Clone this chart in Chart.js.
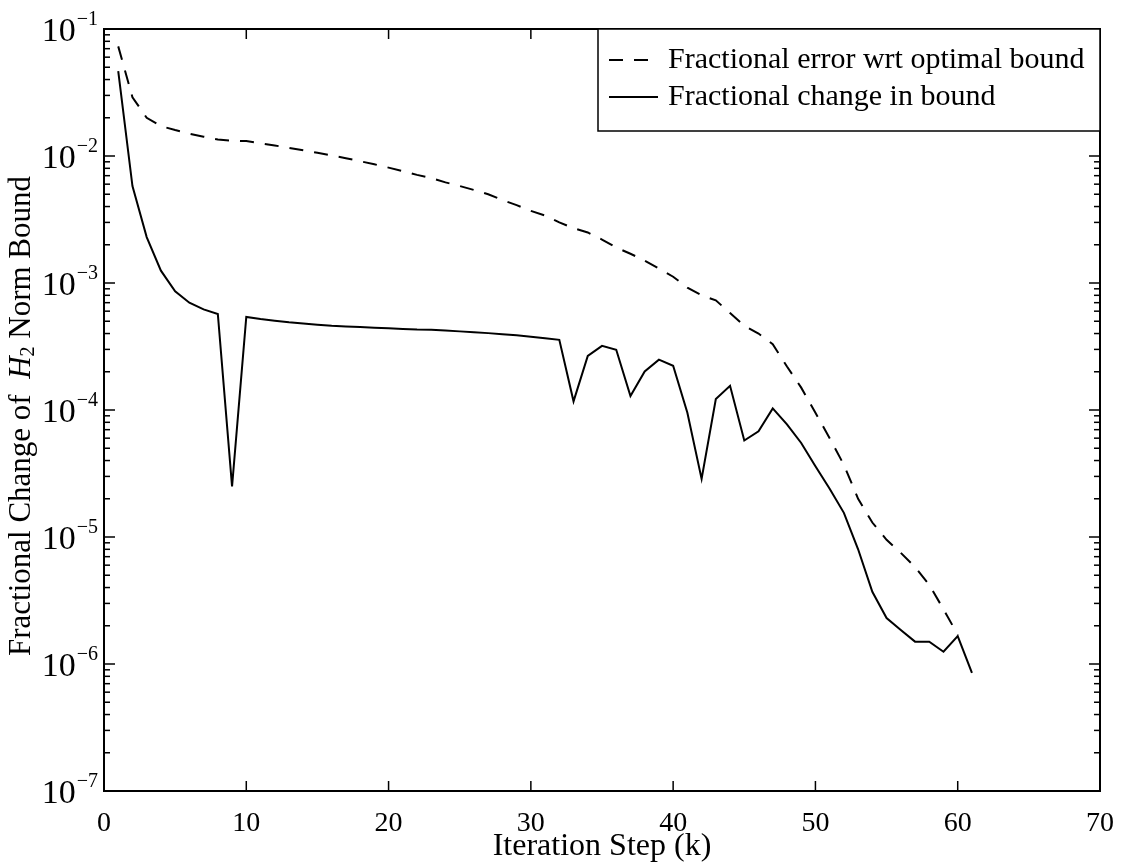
<!DOCTYPE html>
<html>
<head>
<meta charset="utf-8">
<script src="https://cdn.jsdelivr.net/npm/chart.js@4.4.0/dist/chart.umd.min.js"></script>
<style>
  html, body { margin: 0; padding: 0; background: #fff; }
</style>
</head>
<body>
<canvas id="graficoNorma" width="1122" height="867"></canvas>
<script>
// passos de iteracao (k)
const passos = [1, 2, 3, 4, 5, 6, 7, 8, 9, 10, 11, 12, 13, 14, 15, 16, 17, 18, 19, 20,
  21, 22, 23, 24, 25, 26, 27, 28, 29, 30, 31, 32, 33, 34, 35, 36, 37, 38, 39, 40,
  41, 42, 43, 44, 45, 46, 47, 48, 49, 50, 51, 52, 53, 54, 55, 56, 57, 58, 59, 60, 61];

// erro fracional em relacao ao limite otimo (tracejado), k = 1..60
const erroOtimo = [0.073, 0.029, 0.020, 0.0172, 0.0160, 0.0150, 0.0142, 0.0135, 0.0132, 0.0131,
  0.0126, 0.0121, 0.0116, 0.0111, 0.0106, 0.0101, 0.0096, 0.0091, 0.0086, 0.0081,
  0.0076, 0.0071, 0.0067, 0.0062, 0.0058, 0.0054, 0.0050, 0.0045, 0.0041, 0.0037,
  0.0034, 0.0030, 0.0027, 0.0025, 0.0022, 0.0019, 0.0017, 0.0015, 0.0013, 0.00112,
  0.00092, 0.00080, 0.00073, 0.00058, 0.00046, 0.00040, 0.00033, 0.00022, 0.00015, 0.000095,
  0.000060, 0.000037, 0.000020, 0.000013, 0.0000095, 0.0000075, 0.0000058, 0.0000042, 0.0000027, 0.0000017];

// variacao fracional do limite (continuo), k = 1..61
const variacaoLimite = [0.0465, 0.0058, 0.0023, 0.00125, 0.00086, 0.00070, 0.00062, 0.00057, 0.000025, 0.00054,
  0.00052, 0.000505, 0.00049, 0.00048, 0.00047, 0.00046, 0.000455, 0.00045, 0.000445, 0.00044,
  0.000435, 0.00043, 0.000428, 0.000422, 0.000416, 0.00041, 0.000403, 0.000395, 0.000387, 0.000378,
  0.000367, 0.000357, 0.000117, 0.000267, 0.00032, 0.000298, 0.000129, 0.000201, 0.000249, 0.000223,
  0.000095, 0.0000287, 0.000122, 0.000155, 0.0000575, 0.000068, 0.000103, 0.000077, 0.000055, 0.000036,
  0.000024, 0.0000155, 0.000008, 0.0000037, 0.0000023, 0.00000185, 0.0000015, 0.0000015, 0.00000125, 0.00000166,
  0.00000085];

const rotulos = ['Fractional error wrt optimal bound', 'Fractional change in bound'];
const potenciasY = [-1, -2, -3, -4, -5, -6, -7];
const ticksX = [0, 10, 20, 30, 40, 50, 60, 70];

const serif = '"Liberation Serif", "Times New Roman", serif';

function pares(valores) {
  return valores.map((v, i) => ({ x: passos[i], y: v }));
}

function linha(ctx, x1, y1, x2, y2) {
  ctx.beginPath();
  ctx.moveTo(x1, y1);
  ctx.lineTo(x2, y2);
  ctx.stroke();
}

const molduraPlugin = {
  id: 'moldura',
  afterDraw(chart) {
    const ctx = chart.ctx;
    const { left, right, top, bottom } = chart.chartArea;
    const sx = chart.scales.x;
    const sy = chart.scales.y;
    ctx.save();
    ctx.strokeStyle = '#000';
    ctx.fillStyle = '#000';
    ctx.lineWidth = 2;
    ctx.strokeRect(left, top, right - left, bottom - top);

    // marcas do eixo x (para dentro, em baixo e em cima)
    ctx.lineWidth = 1.5;
    sx.ticks.forEach(t => {
      const px = sx.getPixelForValue(t.value);
      linha(ctx, px, bottom, px, bottom - 10);
      linha(ctx, px, top, px, top + 10);
    });

    // marcas do eixo y, maiores e menores
    potenciasY.forEach(p => {
      const py = sy.getPixelForValue(Math.pow(10, p));
      linha(ctx, left, py, left + 11, py);
      linha(ctx, right, py, right - 11, py);
      if (p > -7) {
        for (let m = 2; m <= 9; m++) {
          const pm = sy.getPixelForValue(m * Math.pow(10, p - 1));
          linha(ctx, left, pm, left + 6, pm);
          linha(ctx, right, pm, right - 6, pm);
        }
      }
    });

    // rotulos do eixo y: 10 com expoente
    ctx.textBaseline = 'alphabetic';
    ctx.textAlign = 'left';
    potenciasY.forEach(p => {
      const py = sy.getPixelForValue(Math.pow(10, p));
      const exp = '\u2212' + Math.abs(p);
      ctx.font = '20px ' + serif;
      const wExp = ctx.measureText(exp).width;
      ctx.font = '34px ' + serif;
      const wBase = ctx.measureText('10').width;
      const xFim = left - 6;
      ctx.fillText('10', xFim - wExp - wBase - 1, py + 12);
      ctx.font = '20px ' + serif;
      ctx.fillText(exp, xFim - wExp, py - 4);
    });

    // titulo do eixo y com H italico e subscrito
    const partes = [
      { t: 'Fractional Change of  ', f: '31px ' + serif, dy: 0 },
      { t: 'H', f: 'italic 31px ' + serif, dy: 0 },
      { t: '2', f: '20px ' + serif, dy: 7 },
      { t: ' Norm Bound', f: '31px ' + serif, dy: 0 }
    ];
    let total = 0;
    partes.forEach(q => { ctx.font = q.f; q.w = ctx.measureText(q.t).width; total += q.w; });
    ctx.save();
    ctx.translate(22, (top + bottom) / 2 + 6);
    ctx.rotate(-Math.PI / 2);
    ctx.textBaseline = 'middle';
    ctx.textAlign = 'left';
    let cx = -total / 2;
    partes.forEach(q => {
      ctx.font = q.f;
      ctx.fillText(q.t, cx, q.dy);
      cx += q.w;
    });
    ctx.restore();

    // legenda
    const lx = 598;
    const lb = 131;
    ctx.lineWidth = 1.5;
    ctx.fillStyle = '#fff';
    ctx.fillRect(lx, top, right - lx, lb - top);
    ctx.strokeRect(lx, top, right - lx, lb - top);
    ctx.fillStyle = '#000';
    ctx.font = '30px ' + serif;
    ctx.textBaseline = 'middle';
    const linhasY = [60, 97];
    chart.data.datasets.forEach((ds, i) => {
      ctx.lineWidth = 2;
      ctx.setLineDash(ds.borderDash || []);
      linha(ctx, 609, linhasY[i], 658, linhasY[i]);
      ctx.setLineDash([]);
      ctx.fillText(ds.label, 668, linhasY[i]);
    });
    ctx.restore();
  }
};

new Chart(document.getElementById('graficoNorma'), {
  type: 'line',
  data: {
    datasets: [
      {
        label: rotulos[0],
        data: pares(erroOtimo),
        borderColor: '#000',
        borderWidth: 2,
        borderDash: [14, 11],
        pointRadius: 0,
        fill: false
      },
      {
        label: rotulos[1],
        data: pares(variacaoLimite),
        borderColor: '#000',
        borderWidth: 2,
        pointRadius: 0,
        fill: false
      }
    ]
  },
  options: {
    responsive: false,
    animation: false,
    layout: { padding: { top: 29, right: 17, left: 0, bottom: 0 } },
    elements: { line: { tension: 0 } },
    plugins: {
      legend: { display: false },
      tooltip: { enabled: false }
    },
    scales: {
      x: {
        type: 'linear',
        min: ticksX[0],
        max: ticksX[ticksX.length - 1],
        afterBuildTicks: s => { s.ticks = ticksX.map(v => ({ value: v })); },
        ticks: { color: '#000', font: { family: serif, size: 28 }, padding: 8, maxRotation: 0 },
        grid: { display: false },
        border: { display: false },
        title: {
          display: true,
          text: 'Iteration Step (k)',
          color: '#000',
          font: { family: serif, size: 32 },
          padding: { top: 0, bottom: 1 }
        },
        afterFit: s => { s.height = 76; }
      },
      y: {
        type: 'logarithmic',
        min: Math.pow(10, potenciasY[potenciasY.length - 1]),
        max: Math.pow(10, potenciasY[0]),
        ticks: { display: false },
        grid: { display: false },
        border: { display: false },
        afterFit: s => { s.width = 104; }
      }
    }
  },
  plugins: [molduraPlugin]
});
</script>
</body>
</html>
